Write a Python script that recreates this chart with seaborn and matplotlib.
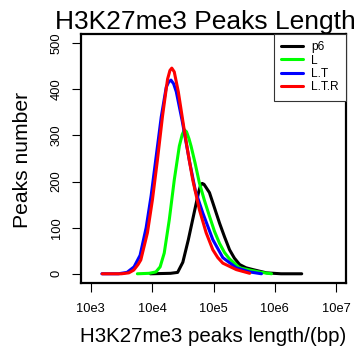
import matplotlib
matplotlib.use("Agg")
import matplotlib.pyplot as plt
import seaborn as sns
import pandas as pd

# ---- data (x = log10 of peak length, y = peaks number) ----
p6_x = [3.97, 4.30, 4.415, 4.50, 4.59, 4.697, 4.754, 4.785, 4.815, 4.845, 4.88, 4.934, 4.989, 5.098, 5.18, 5.262, 5.34, 5.426, 5.53, 5.644, 5.864, 6.10, 6.438]
p6_y = [0, 1, 3, 25, 74, 140, 175, 190, 196, 194, 187, 176, 154, 110, 80, 52, 34, 20, 13, 9, 2, 0, 0]

L_x = [3.759, 3.95, 4.061, 4.13, 4.197, 4.279, 4.361, 4.443, 4.49, 4.525, 4.56, 4.60, 4.634, 4.70, 4.770, 4.85, 4.934, 5.016, 5.098, 5.18, 5.262, 5.426, 5.590, 5.782, 5.946]
L_y = [0, 1, 4, 15, 45, 117, 204, 277, 302, 312, 308, 293, 277, 240, 197, 160, 125, 92, 66, 46, 32, 13, 8, 3, 0]

LT_x = [3.18, 3.45, 3.590, 3.705, 3.803, 3.902, 3.984, 4.066, 4.148, 4.230, 4.27, 4.307, 4.35, 4.393, 4.492, 4.607, 4.705, 4.825, 4.989, 5.152, 5.372, 5.590, 5.782]
LT_y = [0, 0, 3, 15, 40, 100, 170, 255, 340, 405, 416, 420, 412, 395, 330, 245, 180, 132, 74, 35, 13, 4, 0]

LTR_x = [3.185, 3.50, 3.62, 3.70, 3.77, 3.815, 3.923, 4.005, 4.087, 4.169, 4.251, 4.29, 4.320, 4.36, 4.426, 4.525, 4.60, 4.661, 4.770, 4.880, 4.989, 5.07, 5.152, 5.372, 5.590]
LTR_y = [0, 0, 2, 8, 20, 30, 89, 161, 248, 342, 422, 441, 446, 438, 395, 310, 250, 204, 139, 89, 52, 35, 23, 9, 1]

series_names = ["p6", "L", "L.T", "L.T.R"]
series_colors = ["#000000", "#00ff00", "#0000ff", "#ff0000"]

x_ticks = [3, 4, 5, 6, 7]
x_tick_labels = ["10e3", "10e4", "10e5", "10e6", "10e7"]
y_ticks = [0, 100, 200, 300, 400, 500]

title = "H3K27me3 Peaks Length"
x_label = "H3K27me3 peaks length/(bp)"
y_label = "Peaks number"

# ---- build table ----
frames = []
for name, xs, ys in zip(series_names, [p6_x, L_x, LT_x, LTR_x], [p6_y, L_y, LT_y, LTR_y]):
    frames.append(pd.DataFrame({"x": xs, "y": ys, "sample": name}))
df = pd.concat(frames, ignore_index=True)

sns.set_style("white")
plt.rcParams["font.family"] = ["Liberation Sans", "DejaVu Sans"]
plt.rcParams["text.color"] = "black"
plt.rcParams["axes.labelcolor"] = "black"
plt.rcParams["xtick.color"] = "black"
plt.rcParams["ytick.color"] = "black"

W, H = 355, 354
fig = plt.figure(figsize=(W / 100, H / 100), dpi=100)
ax = fig.add_axes([81 / W, 1 - 283 / H, (346 - 81) / W, (283 - 34) / H])

sns.lineplot(data=df, x="x", y="y", hue="sample", hue_order=series_names,
             palette=series_colors, linewidth=2.2, ax=ax, legend=True)

ax.set_xlim(2.84, 7.16)
ax.set_ylim(-20, 520)
ax.set_xticks(x_ticks)
ax.set_xticklabels(x_tick_labels)
ax.set_yticks(y_ticks)
ax.set_yticklabels([str(v) for v in y_ticks], rotation=90, va="center")
ax.tick_params(axis="both", direction="out", length=6.2, width=0.8, colors="black",
               labelcolor="black", labelsize=9.3, bottom=True, left=True)
ax.tick_params(axis="x", pad=8.0)
ax.tick_params(axis="y", pad=7.0)
for s in ax.spines.values():
    s.set_visible(True)
    s.set_color("black")
    s.set_linewidth(1.6)
ax.grid(False)
ax.set_xlabel("")
ax.set_ylabel("")

handles, labels = ax.get_legend_handles_labels()
leg = ax.legend(handles, labels, loc="upper right", bbox_to_anchor=(1.0, 1.0),
                frameon=True, fancybox=False, framealpha=1, edgecolor="#333333",
                fontsize=8.6, handlelength=1.8, handletextpad=0.7,
                labelspacing=0.12, borderpad=0.6, borderaxespad=0.0)
leg.get_frame().set_linewidth(0.8)
for t in leg.get_texts():
    t.set_color("black")
for line in leg.get_lines():
    line.set_linewidth(2.2)

fig.text(55 / W, 1 - 28.5 / H, title, fontsize=19, ha="left", va="baseline", color="black")
fig.text(213.5 / W, 1 - 342.5 / H, x_label, fontsize=14.8, ha="center", va="baseline", color="black")
fig.text(23 / W, 1 - 160 / H, y_label, fontsize=15.2, ha="center", va="center", rotation=90, color="black")

fig.savefig("out.png", dpi=100)
